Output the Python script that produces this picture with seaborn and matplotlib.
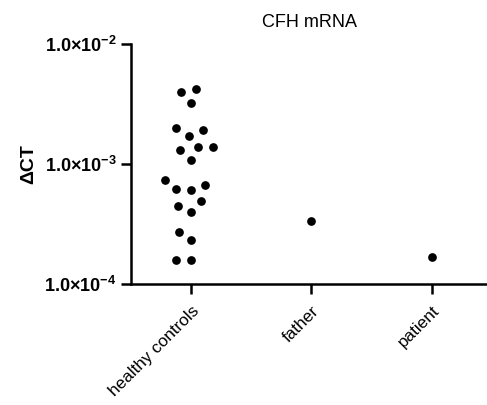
import seaborn as sns
import matplotlib.pyplot as plt
import pandas as pd
from matplotlib.ticker import FixedLocator, NullLocator

sns.set_style("ticks")
plt.rcParams['font.family'] = ['Liberation Sans', 'DejaVu Sans']
plt.rcParams['mathtext.fontset'] = 'custom'
plt.rcParams['mathtext.rm'] = 'Liberation Sans'
plt.rcParams['mathtext.bf'] = 'Liberation Sans:bold'

# values
groups = ["healthy controls", "father", "patient"]
healthy = [4.22e-3, 4.01e-3, 3.25e-3, 2.01e-3, 1.91e-3, 1.72e-3, 1.40e-3,
           1.39e-3, 1.31e-3, 1.09e-3, 7.40e-4, 6.68e-4, 6.19e-4, 6.04e-4,
           4.92e-4, 4.49e-4, 3.98e-4, 2.70e-4, 2.31e-4, 1.59e-4, 1.58e-4]
father = [3.37e-4]
patient = [1.69e-4]
ytick_vals = [1e-4, 1e-3, 1e-2]
ytick_labels = [r'$\mathbf{1.0{\times}10^{-4}}$', r'$\mathbf{1.0{\times}10^{-3}}$',
                r'$\mathbf{1.0{\times}10^{-2}}$']

rows = []
for g, vals in zip(groups, [healthy, father, patient]):
    for v in vals:
        rows.append({"group": g, "dCT": v})
df = pd.DataFrame(rows)

fig = plt.figure(figsize=(4.87, 4.05), dpi=100)
ax = fig.add_axes([0.269, 0.299, 0.731, 0.592])
ax.set_yscale('log')
sns.swarmplot(data=df, x="group", y="dCT", order=groups, color='black',
              size=8.3, linewidth=2.0, edgecolor='white', ax=ax)

ax.set_ylim(1e-4, 1e-2)
ax.set_xlim(-0.5, 2.46)
ax.yaxis.set_major_locator(FixedLocator(ytick_vals))
ax.yaxis.set_minor_locator(NullLocator())
ax.set_yticklabels(ytick_labels, fontsize=13)
ax.set_xticks(range(len(groups)))
ax.set_xticklabels(groups, rotation=45, ha='right', rotation_mode='anchor', fontsize=12.3)

ax.set_xlabel('')
ax.set_ylabel('ΔCT', fontsize=14, fontweight='bold', labelpad=5, color='black')
ax.set_title('CFH mRNA', fontsize=13, pad=12, color='black')

sns.despine(ax=ax)
for side in ['left', 'bottom']:
    ax.spines[side].set_linewidth(1.8)
    ax.spines[side].set_color('black')
ax.tick_params(axis='both', width=1.8, length=7, color='black', labelcolor='black')
ax.tick_params(axis='x', pad=7)

fig.savefig('out.png', dpi=100)
